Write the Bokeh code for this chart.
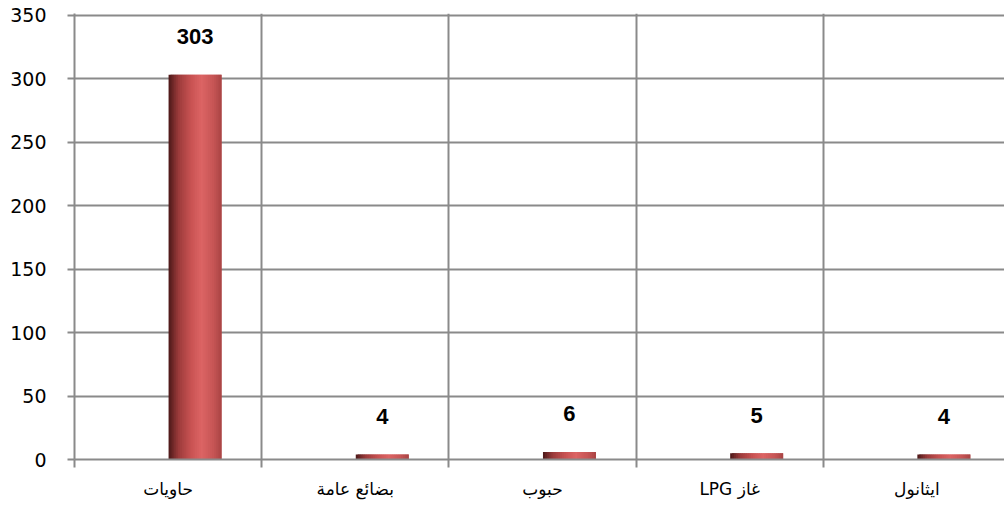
from bokeh.plotting import figure
from bokeh.models import Range1d, FixedTicker, ColumnDataSource
from bokeh.core.properties import value
from bokeh.embed import file_html
from bokeh.resources import INLINE

categories = ["حاويات", "بضائع عامة", "حبوب", "غاز LPG", "ايثانول"]
values = [303, 4, 6, 5, 4]
y_ticks = [0, 50, 100, 150, 200, 250, 300, 350]

BAR_POS = 0.644   # bar centre within each category slot
BAR_W = 0.283
N_STRIPS = 28

stops = [(0.0, (0x4a, 0x18, 0x18)), (0.18, (0x9a, 0x3a, 0x3a)), (0.42, (0xc8, 0x52, 0x52)),
         (0.62, (0xdc, 0x64, 0x64)), (0.85, (0xc6, 0x55, 0x55)), (1.0, (0xa8, 0x44, 0x44))]

def grad(t):
    for (t0, c0), (t1, c1) in zip(stops[:-1], stops[1:]):
        if t0 <= t <= t1:
            f = (t - t0) / (t1 - t0)
            c = [round(a + (b - a) * f) for a, b in zip(c0, c1)]
            return "#%02x%02x%02x" % tuple(c)
    return "#%02x%02x%02x" % stops[-1][1]

p = figure(width=1004, height=517, output_backend="svg", toolbar_location=None,
           x_range=Range1d(0, 4.968), y_range=Range1d(0, 351.2),
           min_border_left=74, min_border_right=0, min_border_top=13, min_border_bottom=58)
p.outline_line_color = None
p.background_fill_color = "white"

# gradient bars built from overlapping strips
lefts, rights, tops, cols = [], [], [], []
sw = BAR_W / N_STRIPS
for i, v in enumerate(values):
    c = i + BAR_POS
    for k in range(N_STRIPS):
        t = (k + 0.5) / N_STRIPS
        lefts.append(c - BAR_W / 2 + k * sw)
        rights.append(c - BAR_W / 2 + (k + 1) * sw if k == N_STRIPS - 1 else c - BAR_W / 2 + (k + 2) * sw)
        tops.append(v)
        cols.append(grad(t))
src = ColumnDataSource(dict(left=lefts, right=rights, top=tops, color=cols))
p.quad(left="left", right="right", top="top", bottom=0, fill_color="color",
       line_color=None, source=src)

# data labels
lab = ColumnDataSource(dict(x=[i + BAR_POS for i in range(len(values))], y=values,
                            t=[str(v) for v in values]))
p.text(x="x", y="y", text="t", source=lab, y_offset=-38, text_align="center",
       text_baseline="middle", text_font=value("Liberation Sans"), text_font_style="bold",
       text_font_size="22px", text_color="black")

grid_col = "#8a8a8a"
# y axis
p.yaxis.ticker = FixedTicker(ticks=y_ticks)
p.yaxis.axis_line_color = grid_col
p.yaxis.axis_line_width = 2
p.yaxis.major_tick_line_color = grid_col
p.yaxis.major_tick_line_width = 2
p.yaxis.major_tick_out = 7
p.yaxis.major_tick_in = 0
p.yaxis.minor_tick_line_color = None
p.yaxis.major_label_standoff = 21
p.yaxis.major_label_text_font = "DejaVu Sans"
p.yaxis.major_label_text_font_size = "19px"
p.yaxis.major_label_text_color = "black"

# x axis: labels at centres, ticks at boundaries (minor)
centres = [i + 0.5 for i in range(len(categories))]
bounds = list(range(len(categories) + 1))
p.xaxis.ticker = FixedTicker(ticks=centres, minor_ticks=bounds)
p.xaxis.major_label_overrides = {c: "\u2067" + lbl + "\u2069" for c, lbl in zip(centres, categories)}
p.xaxis.axis_line_color = grid_col
p.xaxis.axis_line_width = 2
p.xaxis.major_tick_line_color = None
p.xaxis.major_tick_out = 0
p.xaxis.major_tick_in = 0
p.xaxis.minor_tick_line_color = grid_col
p.xaxis.minor_tick_line_width = 2
p.xaxis.minor_tick_out = 8
p.xaxis.minor_tick_in = 0
p.xaxis.major_label_standoff = 11
p.xaxis.major_label_text_font = "DejaVu Sans"
p.xaxis.major_label_text_font_size = "17px"
p.xaxis.major_label_text_color = "black"

# grids
p.ygrid.ticker = FixedTicker(ticks=y_ticks)
p.ygrid.grid_line_color = grid_col
p.ygrid.grid_line_width = 2
p.xgrid.ticker = FixedTicker(ticks=bounds)
p.xgrid.grid_line_color = grid_col
p.xgrid.grid_line_width = 2
p.ygrid.level = "underlay"
p.xgrid.level = "underlay"

open("out.html", "w").write(file_html(p, INLINE))
